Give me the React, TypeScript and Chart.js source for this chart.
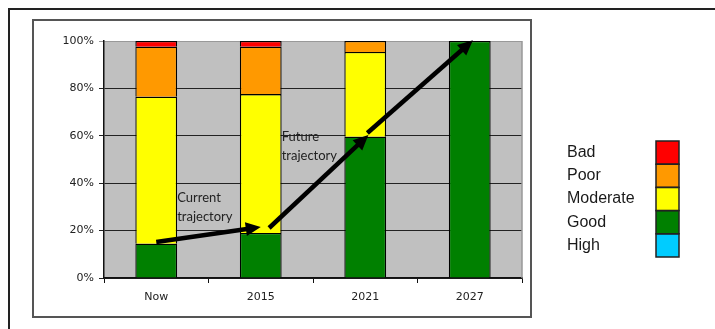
import React, { useEffect, useRef } from 'react';
import Chart from 'chart.js/auto';

const categories = ['Now', '2015', '2021', '2027'];
const seriesNames = ['High', 'Good', 'Moderate', 'Poor', 'Bad'];
const seriesColors = ['#00CCFF', '#008000', '#FFFF00', '#FF9900', '#FF0000'];
const high = [0, 0, 0, 0];
const good = [14.5, 19, 59.6, 100];
const moderate = [62, 58.6, 35.8, 0];
const poor = [21.1, 20, 4.6, 0];
const bad = [2.4, 2.4, 0, 0];
const yTickLabels = ['0%', '20%', '40%', '60%', '80%', '100%'];

// trajectory arrows in data space (category index, percent)
const arrowFromX = [0, 1.08, 2.02];
const arrowFromY = [15.2, 21.1, 61.2];
const arrowToX = [1.0, 2.03, 3.03];
const arrowToY = [21.5, 60.3, 100.3];
const noteLines = [['Current', 'trajectory'], ['Future', 'trajectory']];
const noteX = [0.2, 1.2];
const noteY = [32.1, 57.8];

function drawArrow(ctx: CanvasRenderingContext2D, x1: number, y1: number, x2: number, y2: number) {
  const ang = Math.atan2(y2 - y1, x2 - x1);
  const c = Math.cos(ang), s = Math.sin(ang);
  const headLen = 15, headW = 7;
  const bx = x2 - headLen * c, by = y2 - headLen * s;
  ctx.strokeStyle = '#000';
  ctx.fillStyle = '#000';
  ctx.lineWidth = 4.5;
  ctx.lineCap = 'butt';
  ctx.beginPath();
  ctx.moveTo(x1, y1);
  ctx.lineTo(bx + c, by + s);
  ctx.stroke();
  ctx.beginPath();
  ctx.moveTo(x2, y2);
  ctx.lineTo(bx + headW * s, by - headW * c);
  ctx.lineTo(bx - headW * s, by + headW * c);
  ctx.closePath();
  ctx.fill();
}

const decor = {
  id: 'decor',
  beforeDraw(chart: any) {
    const { ctx, chartArea: a } = chart;
    ctx.save();
    ctx.fillStyle = '#fff';
    ctx.fillRect(0, 0, chart.width, chart.height);
    ctx.strokeStyle = '#222';
    ctx.lineWidth = 2;
    ctx.beginPath();
    ctx.moveTo(9, chart.height);
    ctx.lineTo(9, 9);
    ctx.lineTo(chart.width, 9);
    ctx.stroke();
    ctx.strokeStyle = '#555';
    ctx.lineWidth = 2;
    ctx.strokeRect(33, 20, 498, 297);
    ctx.fillStyle = '#C0C0C0';
    ctx.fillRect(a.left, a.top, a.right - a.left, a.bottom - a.top);
    ctx.restore();
  },
  beforeDatasetsDraw(chart: any) {
    const { ctx, chartArea: a } = chart;
    ctx.save();
    ctx.strokeStyle = '#999';
    ctx.lineWidth = 1.5;
    ctx.beginPath();
    ctx.moveTo(a.right, a.top);
    ctx.lineTo(a.right, a.bottom);
    ctx.stroke();
    ctx.restore();
  },
  afterDatasetsDraw(chart: any) {
    const { ctx } = chart;
    const xs = chart.scales.x, ys = chart.scales.y;
    ctx.save();
    for (let i = 0; i < arrowFromX.length; i++) {
      drawArrow(
        ctx,
        xs.getPixelForValue(arrowFromX[i]),
        ys.getPixelForValue(arrowFromY[i]),
        xs.getPixelForValue(arrowToX[i]),
        ys.getPixelForValue(arrowToY[i])
      );
    }
    ctx.fillStyle = '#222';
    ctx.font = '13px Lato';
    ctx.textAlign = 'left';
    ctx.textBaseline = 'alphabetic';
    for (let i = 0; i < noteLines.length; i++) {
      const x = xs.getPixelForValue(noteX[i]);
      const y = ys.getPixelForValue(noteY[i]);
      noteLines[i].forEach((t, j) => ctx.fillText(t, x, y + j * 19));
    }
    ctx.restore();
  },
  afterDraw(chart: any) {
    const { ctx, chartArea: a } = chart;
    ctx.save();
    const textX = a.right + 45;
    const swX = a.right + 134;
    const top = 141;
    const rowH = 23.2;
    const ds = chart.data.datasets.slice().reverse();
    ctx.font = '16px "Liberation Sans", Arial, sans-serif';
    ctx.textAlign = 'left';
    ctx.textBaseline = 'alphabetic';
    ds.forEach((d: any, i: number) => {
      const y = top + i * rowH;
      ctx.fillStyle = d.backgroundColor;
      ctx.fillRect(swX, y, 23, rowH);
      ctx.fillStyle = '#1a1a1a';
      ctx.fillText(d.label, textX, y + 16);
    });
    ctx.strokeStyle = '#222';
    ctx.lineWidth = 1.5;
    ds.forEach((_: any, i: number) => {
      ctx.strokeRect(swX, top + i * rowH, 23, rowH);
    });
    ctx.restore();
  },
};

export default function App() {
  const ref = useRef<HTMLCanvasElement>(null);
  useEffect(() => {
    document.body.style.margin = '0';
    const values = [high, good, moderate, poor, bad];
    const chart = new Chart(ref.current!, {
      type: 'bar',
      data: {
        labels: categories,
        datasets: seriesNames.map((name, i) => ({
          label: name,
          data: values[i],
          backgroundColor: seriesColors[i],
          borderColor: '#000',
          borderWidth: (c: any) => (c.raw ? 1.3 : 0),
          barPercentage: 0.4,
          categoryPercentage: 1.0,
        })),
      },
      options: {
        animation: false,
        responsive: false,
        maintainAspectRatio: false,
        layout: { padding: { left: 0, top: 41, right: 193, bottom: 0 } },
        plugins: { legend: { display: false }, tooltip: { enabled: false } },
        scales: {
          x: {
            stacked: true,
            grid: { offset: true, drawOnChartArea: false, drawTicks: true, tickLength: 5, color: '#111' },
            border: { display: true, color: '#111', width: 1.5 },
            ticks: { color: '#222', font: { family: 'DejaVu Sans', size: 11 }, padding: 8 },
            afterFit: (s: any) => { s.height = 51; },
          },
          y: {
            stacked: true,
            min: 0,
            max: 100,
            ticks: {
              stepSize: 20,
              color: '#222',
              font: { family: 'DejaVu Sans', size: 11 },
              padding: 5,
              callback: (_v: any, idx: number) => yTickLabels[idx],
            },
            grid: {
              color: (c: any) => (c.tick && c.tick.value === 100 ? '#999' : '#222'),
              tickLength: 5,
              lineWidth: 1,
            },
            border: { display: true, color: '#111', width: 1.5 },
            afterFit: (s: any) => { s.width = 104; },
          },
        },
      },
      plugins: [decor],
    } as any);
    return () => chart.destroy();
  }, []);
  return (
    <div style={{ position: 'fixed', left: 0, top: 0, width: 715, height: 329, background: '#fff' }}>
      <canvas ref={ref} width={715} height={329} style={{ display: 'block', width: 715, height: 329 }} />
    </div>
  );
}
